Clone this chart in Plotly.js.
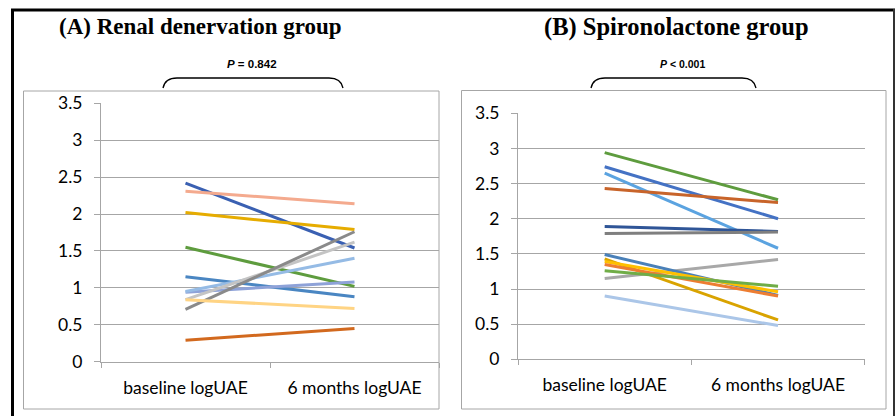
<!DOCTYPE html>
<html>
<head>
<meta charset="utf-8">
<script src="https://cdn.plot.ly/plotly-3.0.1.min.js"></script>
<style>html,body{margin:0;padding:0;background:#fff;}#chart{width:896px;height:416px;}</style>
</head>
<body>
<div id="chart"></div>
<script>
// ---- data ----
var categories = ['baseline logUAE', '6 months logUAE'];

var renalBaseline = [2.42, 2.31, 2.02, 1.55, 1.15, 0.94, 0.95, 0.84, 0.71, 0.84, 0.29];
var renalMonth6   = [1.54, 2.14, 1.79, 1.02, 0.88, 1.08, 1.40, 1.62, 1.76, 0.72, 0.45];

var spiroBaseline = [2.94, 2.74, 2.65, 2.43, 1.89, 1.79, 1.15, 1.49, 1.43, 1.39, 1.35, 1.26, 0.90];
var spiroMonth6   = [2.27, 2.00, 1.58, 2.23, 1.82, 1.81, 1.42, 0.91, 0.56, 0.96, 0.90, 1.04, 0.48];

var titleA = '(A) Renal denervation group';
var titleB = '(B) Spironolactone group';
var pA = '<i>P</i> = 0.842';
var pB = '<i>P</i> &lt; 0.001';

// ---- styles ----
var renalColors = ['#3a60b2', '#f4aa8e', '#e6ac00', '#5e9c3e', '#4a86c2', '#8ea2d8',
                   '#95bbe5', '#c4c4c4', '#8a8a8a', '#ffd484', '#d2691e'];
var spiroColors = ['#5e9c3e', '#4472c4', '#5ba3e0', '#c8642a', '#2f5597', '#7f7f7f',
                   '#a8a8a8', '#4a80b8', '#d9a300', '#ffc000', '#ed7d31', '#70ad47', '#abc6e8'];

var W = 896, H = 416;
function X(px) { return px / W; }
function Y(py) { return 1 - py / H; }

var traces = [];
renalBaseline.forEach(function (b, i) {
  traces.push({x: categories, y: [b, renalMonth6[i]], type: 'scatter', mode: 'lines',
    line: {color: renalColors[i], width: 3}, xaxis: 'x', yaxis: 'y', hoverinfo: 'y', showlegend: false});
});
spiroBaseline.forEach(function (b, i) {
  traces.push({x: categories, y: [b, spiroMonth6[i]], type: 'scatter', mode: 'lines',
    line: {color: spiroColors[i], width: 3}, xaxis: 'x2', yaxis: 'y2', hoverinfo: 'y', showlegend: false});
});

var gray = '#a6a6a6';
var tickFont = {family: 'Lato, "Open Sans", sans-serif', size: 17.5, color: '#000'};
function xax(d, anchor) {
  return {domain: d, anchor: anchor, type: 'category', range: [-0.5, 1.5], tickson: 'boundaries',
    ticks: 'outside', ticklen: 5, tickcolor: gray, showline: true, linecolor: gray, linewidth: 1,
    showgrid: false, zeroline: false, tickfont: tickFont, ticklabelstandoff: 10, fixedrange: true};
}
function yax(d, anchor) {
  return {domain: d, anchor: anchor, range: [0, 3.5], dtick: 0.5, tick0: 0,
    ticks: 'outside', ticklen: 6, tickcolor: gray, showline: true, linecolor: gray, linewidth: 1,
    showgrid: true, gridcolor: gray, gridwidth: 1, zeroline: false, tickfont: tickFont,
    ticklabelstandoff: 8, fixedrange: true};
}

function brace(x0, x1, yt, yb) {
  return 'M ' + X(x0) + ' ' + Y(yb) +
    ' Q ' + X(x0 + 2) + ' ' + Y(yt) + ' ' + X(x0 + 14) + ' ' + Y(yt) +
    ' L ' + X(x1 - 14) + ' ' + Y(yt) +
    ' Q ' + X(x1 - 2) + ' ' + Y(yt) + ' ' + X(x1) + ' ' + Y(yb);
}

var shapes = [
  // inner gray frames
  {type: 'rect', xref: 'paper', yref: 'paper', x0: X(23.5), x1: X(439), y0: Y(409), y1: Y(91),
   line: {color: gray, width: 1}, layer: 'below'},
  {type: 'rect', xref: 'paper', yref: 'paper', x0: X(461.5), x1: X(886), y0: Y(409), y1: Y(90.5),
   line: {color: gray, width: 1}, layer: 'below'},
  // outer black frame
  {type: 'line', xref: 'paper', yref: 'paper', x0: X(11), x1: X(895), y0: Y(10), y1: Y(10),
   line: {color: '#000', width: 3}},
  {type: 'line', xref: 'paper', yref: 'paper', x0: X(12.5), x1: X(12.5), y0: Y(9), y1: Y(416),
   line: {color: '#000', width: 3}},
  {type: 'line', xref: 'paper', yref: 'paper', x0: X(894), x1: X(894), y0: Y(9), y1: Y(416),
   line: {color: '#333', width: 2}},
  // braces
  {type: 'path', xref: 'paper', yref: 'paper', path: brace(163, 343, 78, 88), line: {color: '#000', width: 1.3}},
  {type: 'path', xref: 'paper', yref: 'paper', path: brace(591, 756, 78, 88), line: {color: '#000', width: 1.3}}
];

var titleFontA = {family: '"Liberation Serif", "Times New Roman", serif', size: 23, color: '#000'};
var titleFontB = {family: '"Liberation Serif", "Times New Roman", serif', size: 24.5, color: '#000'};
var pFontA = {family: '"Liberation Sans", Arial, sans-serif', size: 11.5, color: '#000'};
var pFontB = {family: '"Liberation Sans", Arial, sans-serif', size: 10.5, color: '#000'};
var annotations = [
  {text: '<b>' + titleA + '</b>', x: X(200.5), y: Y(27), xref: 'paper', yref: 'paper', showarrow: false,
   xanchor: 'center', yanchor: 'middle', font: titleFontA},
  {text: '<b>' + titleB + '</b>', x: X(676.5), y: Y(27), xref: 'paper', yref: 'paper', showarrow: false,
   xanchor: 'center', yanchor: 'middle', font: titleFontB},
  {text: '<b>' + pA + '</b>', x: X(251.5), y: Y(64.5), xref: 'paper', yref: 'paper', showarrow: false,
   xanchor: 'center', yanchor: 'middle', font: pFontA},
  {text: '<b>' + pB + '</b>', x: X(682), y: Y(63.5), xref: 'paper', yref: 'paper', showarrow: false,
   xanchor: 'center', yanchor: 'middle', font: pFontB}
];

var layout = {
  width: W, height: H, margin: {l: 0, r: 0, t: 0, b: 0},
  paper_bgcolor: '#fff', plot_bgcolor: 'rgba(0,0,0,0)', showlegend: false,
  xaxis: xax([X(101), X(439)], 'y'),
  yaxis: yax([Y(361.7), Y(103.3)], 'x'),
  xaxis2: xax([X(518), X(864.7)], 'y2'),
  yaxis2: yax([Y(359.3), Y(113.3)], 'x2'),
  shapes: shapes, annotations: annotations
};

Plotly.newPlot('chart', traces, layout, {displayModeBar: false, staticPlot: true});
</script>
</body>
</html>
